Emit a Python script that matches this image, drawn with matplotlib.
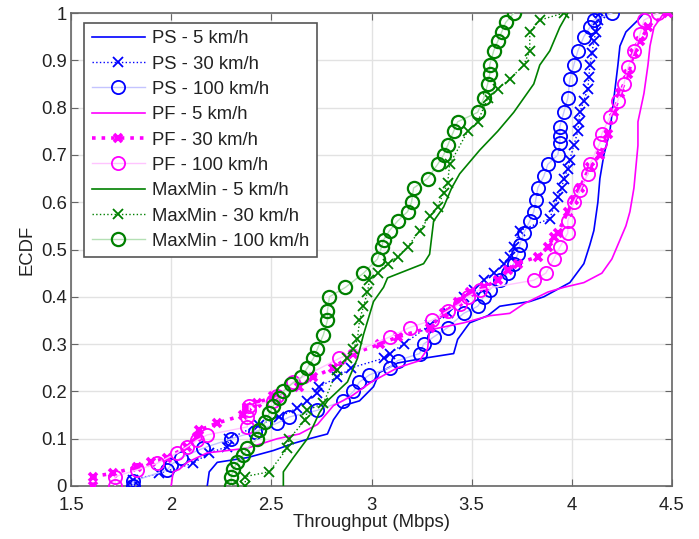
import matplotlib
matplotlib.use("Agg")
import matplotlib.pyplot as plt

plt.rcParams['font.family'] = ['Liberation Sans', 'DejaVu Sans']

# ---------------- data (throughput in Mbps, ECDF value) ----------------
ps5_x = [2.18, 2.19, 2.23, 2.38, 2.51, 2.61, 2.69, 2.78, 2.81, 2.86, 2.94, 3.01, 3.04, 3.13, 3.26, 3.41, 3.43, 3.49,
         3.58, 3.64, 3.79, 3.86, 3.99, 4.06, 4.09, 4.11, 4.13, 4.14, 4.16, 4.19, 4.21, 4.23, 4.24, 4.27, 4.33, 4.36]
ps5_y = [0, 0.03, 0.05, 0.06, 0.075, 0.09, 0.10, 0.11, 0.14, 0.17, 0.18, 0.21, 0.24, 0.26, 0.27, 0.28, 0.31, 0.345,
         0.36, 0.38, 0.39, 0.40, 0.43, 0.47, 0.51, 0.54, 0.60, 0.65, 0.70, 0.75, 0.82, 0.89, 0.93, 0.96, 0.985, 1.0]

ps30_x = [1.81, 1.81, 1.94, 2.11, 2.19, 2.28, 2.29, 2.44, 2.54, 2.63, 2.68, 2.73, 2.74, 2.83, 2.90, 3.06, 3.09, 3.16,
          3.29, 3.38, 3.46, 3.51, 3.56, 3.61, 3.66, 3.69, 3.71, 3.74, 3.89, 3.91, 3.93, 3.95, 3.96, 3.98, 3.99, 4.01,
          4.03, 4.035, 4.04, 4.06, 4.08, 4.085, 4.09, 4.10, 4.11, 4.12, 4.13, 4.14]
ps30_y = [0, 0.013, 0.027, 0.048, 0.07, 0.083, 0.10, 0.13, 0.146, 0.165, 0.18, 0.196, 0.21, 0.23, 0.25, 0.27, 0.28,
          0.30, 0.34, 0.365, 0.40, 0.415, 0.435, 0.45, 0.47, 0.485, 0.505, 0.54, 0.565, 0.59, 0.61, 0.63, 0.65, 0.67,
          0.69, 0.72, 0.75, 0.77, 0.79, 0.815, 0.84, 0.865, 0.89, 0.915, 0.94, 0.96, 0.985, 1.0]

ps100_x = [1.81, 1.81, 1.98, 2.00, 2.05, 2.16, 2.30, 2.42, 2.53, 2.59, 2.73, 2.86, 2.91, 2.94, 2.99, 3.09, 3.13, 3.24,
           3.26, 3.31, 3.38, 3.46, 3.53, 3.56, 3.59, 3.64, 3.68, 3.71, 3.73, 3.74, 3.76, 3.79, 3.81, 3.82, 3.83, 3.86,
           3.88, 3.93, 3.94, 3.94, 3.94, 3.96, 3.98, 3.99, 4.01, 4.03, 4.06, 4.09, 4.11, 4.20]
ps100_y = [0, 0.01, 0.034, 0.045, 0.06, 0.08, 0.10, 0.115, 0.133, 0.146, 0.16, 0.18, 0.20, 0.22, 0.235, 0.25, 0.265,
           0.28, 0.30, 0.315, 0.335, 0.365, 0.38, 0.40, 0.415, 0.435, 0.45, 0.47, 0.49, 0.51, 0.535, 0.56, 0.58, 0.605,
           0.63, 0.655, 0.68, 0.70, 0.725, 0.74, 0.76, 0.79, 0.82, 0.86, 0.89, 0.92, 0.95, 0.97, 0.985, 1.0]

pf5_x = [2.0, 2.01, 2.04, 2.08, 2.18, 2.38, 2.53, 2.64, 2.73, 2.81, 2.90, 3.00, 3.13, 3.24, 3.28, 3.29, 3.46, 3.59,
         3.69, 3.76, 3.88, 3.96, 4.06, 4.15, 4.20, 4.24, 4.27, 4.29, 4.31, 4.33, 4.33, 4.36, 4.38, 4.39, 4.41, 4.46]
pf5_y = [0, 0.03, 0.035, 0.05, 0.07, 0.08, 0.10, 0.11, 0.13, 0.17, 0.19, 0.22, 0.25, 0.265, 0.29, 0.33, 0.345, 0.36,
         0.365, 0.385, 0.41, 0.42, 0.43, 0.45, 0.48, 0.52, 0.55, 0.58, 0.63, 0.72, 0.77, 0.83, 0.89, 0.93, 0.97, 1.0]

pf30_x = [1.61, 1.61, 1.71, 1.83, 1.90, 1.98, 2.08, 2.13, 2.14, 2.23, 2.36, 2.38, 2.43, 2.51, 2.64, 2.71, 2.81, 2.91,
          3.04, 3.13, 3.29, 3.36, 3.43, 3.49, 3.56, 3.63, 3.68, 3.73, 3.83, 3.88, 3.91, 3.93, 3.98, 4.01, 4.04, 4.09,
          4.14, 4.18, 4.21, 4.24, 4.28, 4.31, 4.34, 4.38, 4.48]
pf30_y = [0, 0.02, 0.027, 0.04, 0.05, 0.06, 0.083, 0.104, 0.118, 0.133, 0.15, 0.167, 0.175, 0.19, 0.21, 0.23, 0.25,
          0.28, 0.30, 0.315, 0.335, 0.365, 0.39, 0.41, 0.42, 0.435, 0.457, 0.47, 0.485, 0.505, 0.527, 0.535, 0.58,
          0.605, 0.63, 0.675, 0.70, 0.745, 0.79, 0.83, 0.87, 0.915, 0.94, 0.97, 1.0]

pf100_x = [1.72, 1.72, 1.83, 1.93, 2.03, 2.08, 2.13, 2.18, 2.38, 2.38, 2.39, 2.39, 2.51, 2.53, 2.61, 2.84, 3.09, 3.19,
           3.30, 3.38, 3.44, 3.48, 3.54, 3.81, 3.87, 3.91, 3.94, 3.98, 3.98, 4.01, 4.04, 4.08, 4.09, 4.14, 4.15, 4.19,
           4.23, 4.26, 4.28, 4.31, 4.34, 4.36, 4.43]
pf100_y = [0, 0.02, 0.034, 0.048, 0.07, 0.083, 0.097, 0.108, 0.125, 0.146, 0.16, 0.17, 0.18, 0.19, 0.22, 0.27, 0.315,
           0.335, 0.35, 0.37, 0.385, 0.40, 0.415, 0.435, 0.45, 0.48, 0.505, 0.535, 0.56, 0.60, 0.625, 0.66, 0.68, 0.725,
           0.745, 0.78, 0.815, 0.85, 0.885, 0.92, 0.955, 0.985, 1.0]

mm5_x = [2.56, 2.56, 2.61, 2.68, 2.74, 2.78, 2.88, 2.93, 2.96, 3.01, 3.06, 3.08, 3.26, 3.29, 3.31, 3.36, 3.40, 3.44,
         3.54, 3.63, 3.71, 3.76, 3.81, 3.84, 3.89, 3.94, 3.98]
mm5_y = [0, 0.03, 0.06, 0.10, 0.155, 0.18, 0.22, 0.27, 0.32, 0.39, 0.42, 0.44, 0.47, 0.49, 0.56, 0.59, 0.63, 0.66,
         0.71, 0.75, 0.79, 0.82, 0.85, 0.89, 0.92, 0.97, 1.0]

mm30_x = [2.37, 2.37, 2.49, 2.58, 2.59, 2.67, 2.68, 2.76, 2.83, 2.88, 2.91, 2.93, 2.94, 2.96, 2.98, 2.99, 3.03, 3.08,
          3.13, 3.18, 3.24, 3.29, 3.33, 3.36, 3.38, 3.39, 3.48, 3.53, 3.58, 3.63, 3.69, 3.76, 3.79, 3.79, 3.84, 3.96]
mm30_y = [0, 0.02, 0.03, 0.08, 0.10, 0.14, 0.16, 0.175, 0.245, 0.27, 0.29, 0.31, 0.35, 0.38, 0.41, 0.435, 0.45, 0.47,
          0.485, 0.505, 0.54, 0.57, 0.59, 0.62, 0.64, 0.68, 0.75, 0.77, 0.82, 0.84, 0.86, 0.89, 0.92, 0.96, 0.985, 1.0]

mm100_x = [2.30, 2.30, 2.31, 2.33, 2.36, 2.38, 2.43, 2.44, 2.47, 2.49, 2.51, 2.54, 2.56, 2.60, 2.65, 2.68, 2.71, 2.73,
           2.76, 2.78, 2.78, 2.79, 2.87, 2.96, 3.03, 3.05, 3.06, 3.09, 3.13, 3.18, 3.20, 3.21, 3.28, 3.33, 3.36, 3.38,
           3.41, 3.43, 3.53, 3.56, 3.58, 3.59, 3.59, 3.61, 3.63, 3.65, 3.67, 3.71]
mm100_y = [0, 0.02, 0.035, 0.05, 0.065, 0.08, 0.10, 0.118, 0.135, 0.154, 0.17, 0.185, 0.20, 0.215, 0.23, 0.25, 0.27,
           0.29, 0.32, 0.35, 0.37, 0.40, 0.42, 0.45, 0.48, 0.505, 0.52, 0.54, 0.56, 0.58, 0.60, 0.63, 0.65, 0.68, 0.70,
           0.72, 0.75, 0.77, 0.79, 0.82, 0.85, 0.87, 0.89, 0.92, 0.94, 0.96, 0.98, 1.0]

labels = ["PS - 5 km/h", "PS - 30 km/h", "PS - 100 km/h",
          "PF - 5 km/h", "PF - 30 km/h", "PF - 100 km/h",
          "MaxMin - 5 km/h", "MaxMin - 30 km/h", "MaxMin - 100 km/h"]
x_ticks = [1.5, 2, 2.5, 3, 3.5, 4, 4.5]
x_ticklabels = ["1.5", "2", "2.5", "3", "3.5", "4", "4.5"]
y_ticks = [0, 0.1, 0.2, 0.3, 0.4, 0.5, 0.6, 0.7, 0.8, 0.9, 1]
y_ticklabels = ["0", "0.1", "0.2", "0.3", "0.4", "0.5", "0.6", "0.7", "0.8", "0.9", "1"]

# ---------------- figure ----------------
FS = 13.3
fig = plt.figure(figsize=(6.99, 5.39), dpi=100)
ax = fig.add_axes([71 / 699, 53 / 539, 601 / 699, 473 / 539])

BLUE = "#0000ff"
MAG = "#ff00ff"
GRN = "#008000"

ax.plot(ps5_x, ps5_y, color=BLUE, lw=1.2, label=labels[0], zorder=3)
ax.plot(ps30_x, ps30_y, color=BLUE, lw=1.0, ls=":", marker="x", ms=7, mew=1.3, label=labels[1], zorder=3)
ax.plot(ps100_x, ps100_y, color="#c4c4ff", lw=1.0, marker="o", ms=9.5, mfc="none", mec=BLUE, mew=1.3,
        label=labels[2], zorder=3)
ax.plot(pf5_x, pf5_y, color=MAG, lw=1.2, label=labels[3], zorder=3)
ax.plot(pf30_x, pf30_y, color=MAG, lw=2.6, ls=":", marker="x", ms=6, mew=2.6, label=labels[4], zorder=3)
ax.plot(pf100_x, pf100_y, color="#ffc4ff", lw=1.0, marker="o", ms=9.5, mfc="none", mec=MAG, mew=1.3,
        label=labels[5], zorder=3)
ax.plot(mm5_x, mm5_y, color=GRN, lw=1.2, label=labels[6], zorder=3)
ax.plot(mm30_x, mm30_y, color=GRN, lw=1.0, ls=":", marker="x", ms=7, mew=1.3, label=labels[7], zorder=3)
ax.plot(mm100_x, mm100_y, color="#b4e0b4", lw=1.0, marker="o", ms=9.5, mfc="none", mec=GRN, mew=1.6,
        label=labels[8], zorder=3)

ax.set_xlim(1.5, 4.5)
ax.set_ylim(0, 1)
ax.set_xticks(x_ticks)
ax.set_xticklabels(x_ticklabels)
ax.set_yticks(y_ticks)
ax.set_yticklabels(y_ticklabels)
ax.grid(True, color="#e2e2e2", lw=1.0, zorder=0)
ax.set_axisbelow(True)
ax.tick_params(direction="in", top=True, right=True, length=5, color="#666666",
               labelsize=FS, labelcolor="#222222")
ax.tick_params(axis="x", pad=8)
ax.tick_params(axis="y", pad=3)
for s in ax.spines.values():
    s.set_color("#666666")
    s.set_linewidth(1.2)

ax.set_xlabel("Throughput (Mbps)", fontsize=FS, color="#222222", labelpad=0)
ax.set_ylabel("ECDF", fontsize=FS, color="#222222", labelpad=4)

leg = ax.legend(loc="upper left", bbox_to_anchor=(0.022, 0.979), borderaxespad=0,
                fontsize=FS, numpoints=1, handlelength=2.9, handletextpad=0.38,
                labelspacing=0.45, borderpad=0.4, fancybox=False, framealpha=1,
                edgecolor="#555555")
leg.get_frame().set_linewidth(1.2)
for t in leg.get_texts():
    t.set_color("#222222")

fig.savefig("out.png", dpi=100)
